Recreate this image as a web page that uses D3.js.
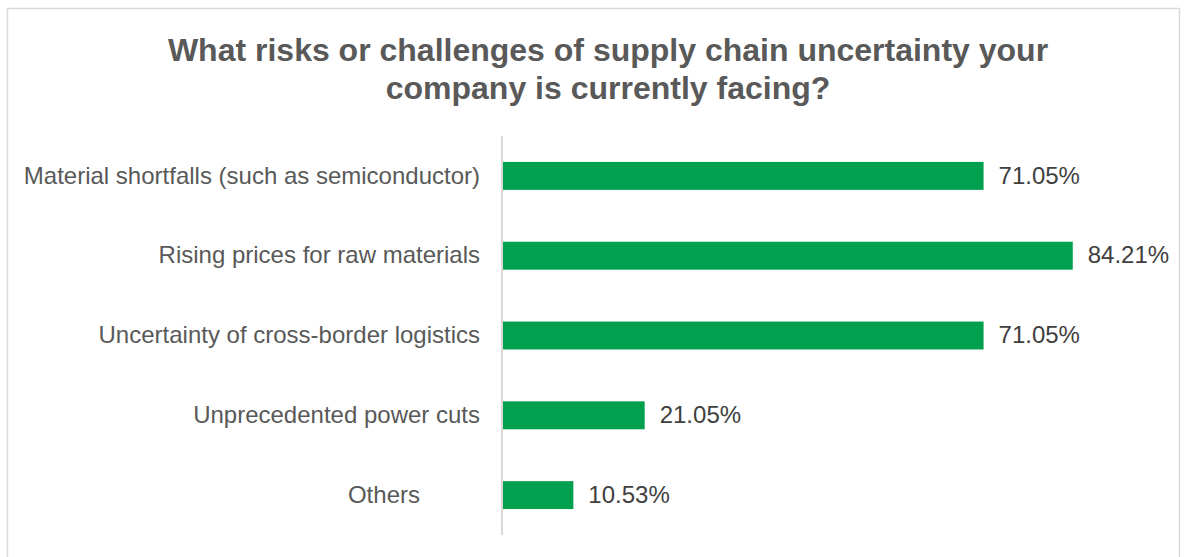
<!DOCTYPE html>
<html>
<head>
<meta charset="utf-8">
<script src="https://cdn.jsdelivr.net/npm/d3@7"></script>
<style>
  html, body { margin: 0; padding: 0; background: #ffffff; }
  svg { display: block; }
  .tick text { white-space: pre; }
</style>
</head>
<body>
<svg id="chart" width="1204" height="557"></svg>
<script>
// Survey results: share of companies reporting each supply-chain risk
// (the last category keeps the trailing padding of its source label)
const categories = [
  "Material shortfalls (such as semiconductor)",
  "Rising prices for raw materials",
  "Uncertainty of cross-border logistics",
  "Unprecedented power cuts",
  "Others         "
];
const values = [71.05, 84.21, 71.05, 21.05, 10.53];
const valueLabels = ["71.05%", "84.21%", "71.05%", "21.05%", "10.53%"];
const titleLines = [
  "What risks or challenges of supply chain uncertainty your",
  "company is currently facing?"
];

const svg = d3.select("#chart");
const font = "'Liberation Sans', Arial, sans-serif";

// Chart frame
svg.append("rect")
  .attr("x", 7.5).attr("y", 8.5)
  .attr("width", 1172).attr("height", 560)
  .attr("fill", "#ffffff")
  .attr("stroke", "#d9d9d9")
  .attr("stroke-width", 1.5);

// Title
svg.append("g")
  .selectAll("text")
  .data(titleLines)
  .join("text")
  .attr("x", 608)
  .attr("y", (d, i) => 61 + i * 38)
  .attr("text-anchor", "middle")
  .attr("font-family", font)
  .attr("font-weight", "bold")
  .attr("font-size", 32)
  .attr("fill", "#595959")
  .text(d => d);

const x = d3.scaleLinear().domain([0, 90]).range([502, 1112]);
const y = d3.scaleBand().domain(categories).range([136, 535]).paddingInner(0.65).paddingOuter(0.325);

// Bars
svg.append("g")
  .selectAll("rect")
  .data(categories)
  .join("rect")
  .attr("x", x(0))
  .attr("y", d => y(d))
  .attr("width", (d, i) => x(values[i]) - x(0))
  .attr("height", y.bandwidth())
  .attr("fill", "#00A04F");

// Category axis (line only, labels to the left)
const yAxis = svg.append("g")
  .attr("transform", `translate(${x(0)},0)`)
  .call(d3.axisLeft(y).tickSize(0).tickPadding(22));
yAxis.select(".domain")
  .attr("d", `M0,136V535`)
  .attr("stroke", "#d9d9d9")
  .attr("stroke-width", 2);
yAxis.selectAll("text")
  .attr("dy", "0.32em")
  .attr("font-family", font)
  .attr("font-size", 24)
  .attr("fill", "#595959");

// Value labels
svg.append("g")
  .selectAll("text")
  .data(categories)
  .join("text")
  .attr("x", (d, i) => x(values[i]) + 15)
  .attr("y", d => y(d) + y.bandwidth() / 2)
  .attr("dy", "0.32em")
  .attr("font-family", font)
  .attr("font-size", 24)
  .attr("fill", "#404040")
  .text((d, i) => valueLabels[i]);
</script>
</body>
</html>
